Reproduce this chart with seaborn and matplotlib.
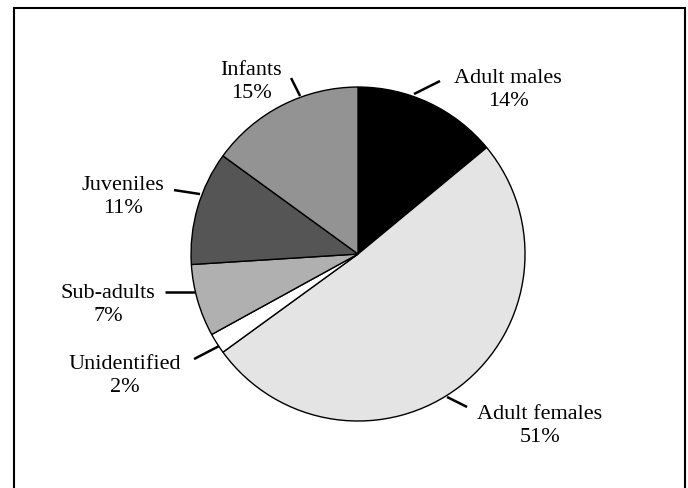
import matplotlib
matplotlib.use("Agg")
import matplotlib.pyplot as plt
import matplotlib.patches as patches
import seaborn as sns

# data, clockwise from the top
groups = ["Adult males", "Adult females", "Unidentified", "Sub-adults", "Juveniles", "Infants"]
shares = [14, 51, 2, 7, 11, 15]
shades = ["#000000", "#e4e4e4", "#ffffff", "#b0b0b0", "#555555", "#939393"]

# label placement (pie radius = 1)
label_xy = [(0.898, 0.988), (1.090, -1.024), (-1.395, -0.725),
            (-1.497, -0.299), (-1.407, 0.347), (-0.641, 1.036)]
leaders = [((0.335, 0.958), (0.491, 1.036)),
           ((0.533, -0.856), (0.653, -0.916)),
           ((-0.982, -0.629), (-0.832, -0.551)),
           ((-1.156, -0.228), (-0.976, -0.228)),
           ((-1.102, 0.383), (-0.946, 0.359)),
           ((-0.401, 1.054), (-0.347, 0.946))]

sns.set_theme(style="white")
plt.rcParams['font.family'] = ['Liberation Serif', 'DejaVu Serif']

fig = plt.figure(figsize=(6.88, 4.89), dpi=100)
ax = fig.add_axes([0, 0, 1, 1])
ax.pie(shares, colors=shades, startangle=90, counterclock=False, radius=1,
       wedgeprops=dict(edgecolor="black", linewidth=1.0))
ax.set_xlim(-2.144, 1.976)
ax.set_ylim(-1.401, 1.527)
ax.set_aspect("equal")
ax.axis("off")

for name, val, (tx, ty), (p0, p1) in zip(groups, shares, label_xy, leaders):
    ax.text(tx, ty, f"{name}\n{val}%", ha="center", va="center",
            fontsize=16, color="black", linespacing=1.25)
    ax.plot([p0[0], p1[0]], [p0[1], p1[1]], color="black", lw=1.8,
            solid_capstyle="butt")

# frame around the figure (bottom edge runs off the image)
fig.patches.append(patches.Rectangle((14 / 688, -0.1), (685 - 14) / 688, (489 - 9) / 489 + 0.1,
                                     transform=fig.transFigure, fill=False,
                                     edgecolor="black", linewidth=1.5))

fig.savefig("out.png", dpi=100)
